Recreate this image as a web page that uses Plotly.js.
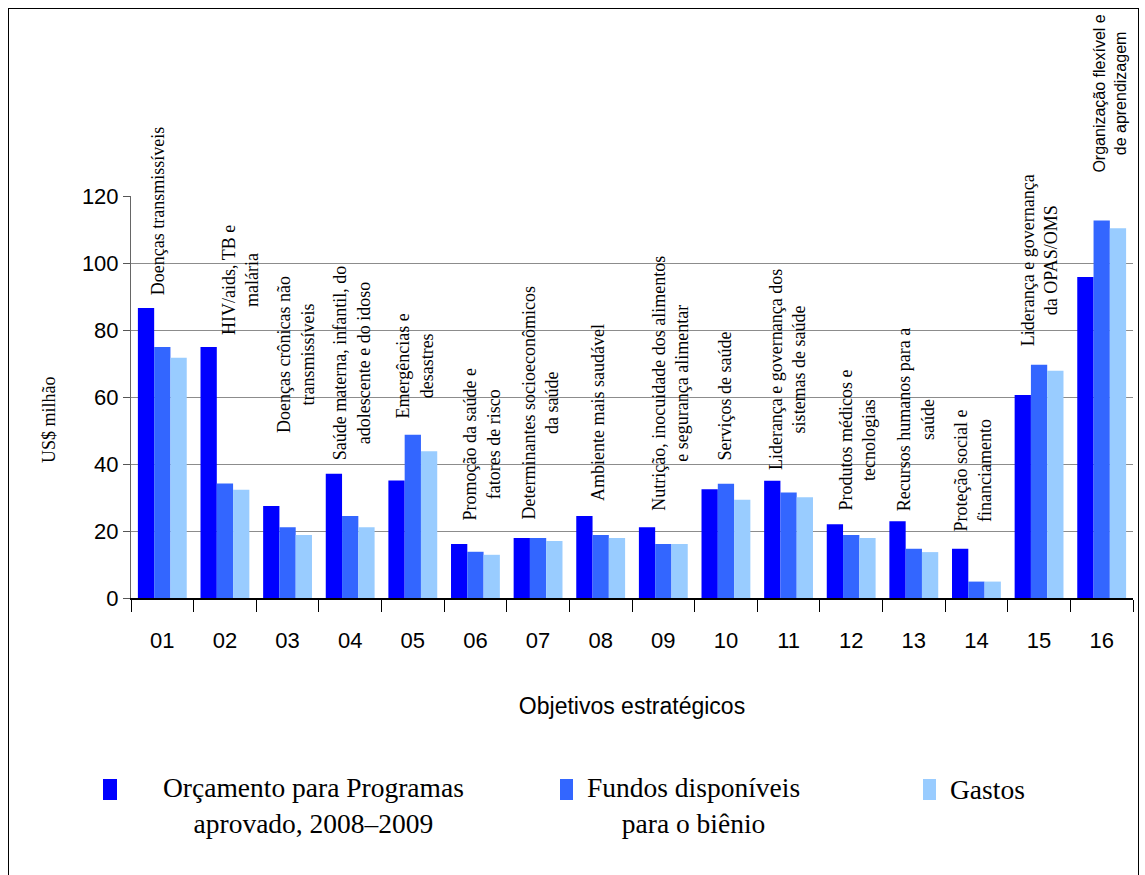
<!DOCTYPE html>
<html>
<head>
<meta charset="utf-8">
<script src="https://cdn.plot.ly/plotly-3.0.1.min.js"></script>
<style>
  html, body { margin: 0; padding: 0; background: #fff; }
  #wrap { position: relative; width: 1145px; height: 875px; overflow: hidden; }
  #chart { position: absolute; left: 0; top: 0; width: 1145px; height: 875px; }
  #frame { position: absolute; left: 8px; top: 8px; width: 1131px; height: 900px; border: 1px solid #000; pointer-events: none; box-sizing: border-box; }
</style>
</head>
<body>
<div id="wrap"><div id="chart"></div><div id="frame"></div></div>
<script>
// ---- data ----
const categories = ['01','02','03','04','05','06','07','08','09','10','11','12','13','14','15','16'];
const orcamento = [86.6, 74.9, 27.5, 37.1, 35.1, 16.1, 17.9, 24.5, 21.1, 32.5, 35.0, 22.0, 22.9, 14.7, 60.6, 95.8];
const fundos    = [74.9, 34.2, 21.1, 24.5, 48.7, 13.8, 17.9, 18.8, 16.1, 34.1, 31.5, 18.8, 14.7, 4.9, 69.6, 112.7];
const gastos    = [71.7, 32.3, 18.8, 21.1, 43.8, 12.9, 17.0, 17.9, 16.1, 29.3, 30.1, 17.9, 13.7, 4.9, 67.8, 110.4];
const seriesNames = ['Orçamento para Programas<br>aprovado, 2008–2009', 'Fundos disponíveis<br>para o biênio', 'Gastos'];
const objectiveNames = [
  'Doenças transmissíveis',
  'HIV/aids, TB e<br>malária',
  'Doenças crônicas não<br>transmissíveis',
  'Saúde materna, infantil, do<br>adolescente e do idoso',
  'Emergências e<br>desastres',
  'Promoção da saúde e<br>fatores de risco',
  'Determinantes socioeconômicos<br>da saúde',
  'Ambiente mais saudável',
  'Nutrição, inocuidade dos alimentos<br>e segurança alimentar',
  'Serviços de saúde',
  'Liderança e governança dos<br>sistemas de saúde',
  'Produtos médicos e<br>tecnologias',
  'Recursos humanos para a<br>saúde',
  'Proteção social e<br>financiamento',
  'Liderança e governança<br>da OPAS/OMS',
  'Organização flexível e<br>de aprendizagem'
];
const yTitle = 'US$ milhão';
const xTitle = 'Objetivos estratégicos';

// ---- layout helpers (positions/styles) ----
const colors = ['#0000FF', '#3366FF', '#99CCFF'];
const labelBase = [89.9, 77.9, 48.7, 40.6, 53.1, 22.7, 22.7, 28.4, 25.4, 40.6, 37.6, 25.4, 25.4, 19.4, 74.6, 126.3];
const labelShift = [-4, 15, 8, 2, 2, 7, 2, -2, 7, 0, -1, 6, 2, -4, 0, 8];
const yMax = 120;

const W = 1145, H = 875;
const M = {l: 131, r: 12, t: 196, b: 277};
const pw = W - M.l - M.r, ph = H - M.t - M.b;
const px = x => (x - M.l) / pw;
const py = y => (H - M.b - y) / ph;

const serif = 'Liberation Serif, Times New Roman, serif';
const sans = 'Liberation Sans, Arial, sans-serif';

const traces = [orcamento, fundos, gastos].map((vals, i) => ({
  type: 'bar',
  x: categories,
  y: vals,
  name: seriesNames[i],
  marker: {color: colors[i], line: {width: 0}},
  hoverinfo: 'x+y'
}));

// category annotations: x given as category index (strings like '01' would be cast to numbers)
const annotations = categories.map((c, i) => {
  const yv = Math.min(labelBase[i], yMax);
  return {
    x: i, y: yv, xref: 'x', yref: 'y',
    yshift: (labelBase[i] - yv) * ph / yMax,
    text: objectiveNames[i], textangle: -90, showarrow: false,
    xanchor: 'center', yanchor: 'bottom', align: 'center', xshift: labelShift[i],
    font: {family: i === 15 ? sans : serif, size: i === 15 ? 16 : 18, color: '#000'}
  };
});

// y axis title
annotations.push({xref: 'paper', yref: 'paper', x: px(49), y: py(420),
  xanchor: 'center', yanchor: 'middle', textangle: -90, showarrow: false,
  text: yTitle, font: {family: serif, size: 18, color: '#000'}});

// legend (custom, centered multi-line text)
const legendItems = [
  {sw: [103, 117], cx: 313, cy: 805},
  {sw: [560, 573], cx: 693, cy: 805},
  {sw: [923, 936], cx: 987, cy: 789}
];
const shapes = [];
legendItems.forEach((it, i) => {
  shapes.push({type: 'rect', xref: 'paper', yref: 'paper',
    x0: px(it.sw[0]), x1: px(it.sw[1]), y0: py(800), y1: py(779),
    fillcolor: colors[i], line: {width: 0}});
  annotations.push({xref: 'paper', yref: 'paper', x: px(it.cx), y: py(it.cy),
    xanchor: 'center', yanchor: 'middle', align: 'center', showarrow: false,
    text: seriesNames[i], font: {family: serif, size: 27.5, color: '#000'}});
});

const layout = {
  width: W, height: H,
  margin: M,
  paper_bgcolor: '#fff', plot_bgcolor: '#fff',
  barmode: 'group', bargap: 0.22, bargroupgap: 0,
  showlegend: false,
  xaxis: {
    type: 'category', tickson: 'boundaries',
    range: [-0.5, categories.length - 0.5], autorange: false,
    ticks: 'outside', ticklen: 12, tickcolor: '#000', tickwidth: 1,
    showline: true, linecolor: '#000', linewidth: 1.5,
    showgrid: false,
    tickfont: {family: sans, size: 22, color: '#000'},
    ticklabelstandoff: 22,
    title: {text: xTitle, font: {family: sans, size: 23, color: '#000'}, standoff: 46}
  },
  yaxis: {
    range: [0, yMax], autorange: false, dtick: 20, tick0: 0,
    showgrid: true, gridcolor: '#8c8c8c', gridwidth: 1,
    zeroline: false,
    ticks: 'outside', ticklen: 7, tickcolor: '#555',
    showline: true, linecolor: '#666', linewidth: 1,
    tickfont: {family: sans, size: 22, color: '#000'}
  },
  annotations: annotations,
  shapes: shapes
};

Plotly.newPlot('chart', traces, layout, {displayModeBar: false, staticPlot: true});
</script>
</body>
</html>
